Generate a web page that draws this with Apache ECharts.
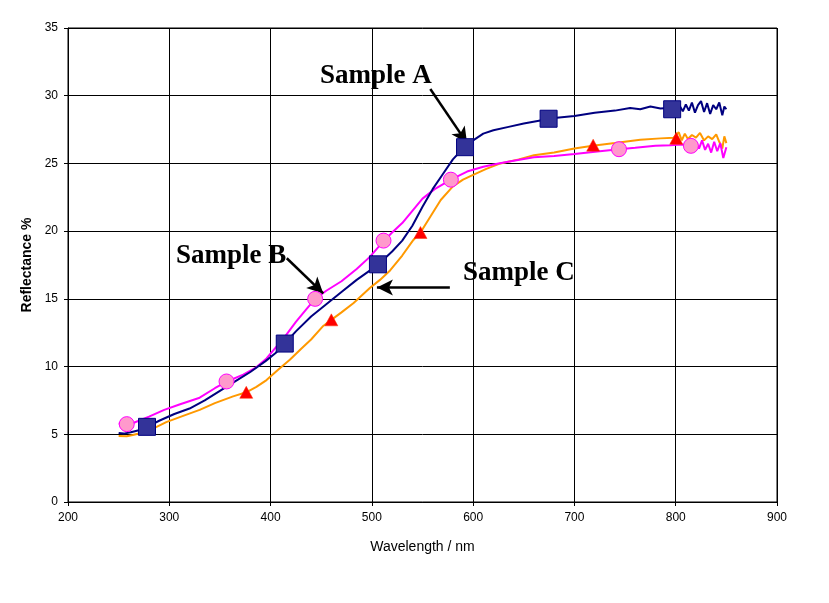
<!DOCTYPE html>
<html>
<head>
<meta charset="utf-8">
<script src="https://cdn.jsdelivr.net/npm/echarts@6/dist/echarts.min.js"></script>
<style>
  html, body { margin: 0; padding: 0; background: #fff; }
  #chart { width: 829px; height: 603px; }
</style>
</head>
<body>
<div id="chart"></div>
<script>
// axis ticks
var xTicks = [200, 300, 400, 500, 600, 700, 800, 900];
var yTicks = [0, 5, 10, 15, 20, 25, 30, 35];

// Sample A (navy line)
var waveA = [250, 255, 262, 270, 278, 290, 305, 320, 335, 350, 365, 380, 395, 405, 414, 425, 440, 455, 470, 485,
  500, 510, 520, 530, 540, 550, 560, 570, 580, 590, 600, 610, 620, 635, 650, 665, 680, 700, 720, 740,
  755, 765, 775, 785, 792, 800, 804, 807, 810, 813, 816, 819, 822, 825, 828, 831, 834, 837, 840, 843, 846, 848, 850];
var reflA = [5.1, 5.05, 5.15, 5.3, 5.55, 6.0, 6.5, 6.9, 7.5, 8.2, 8.9, 9.6, 10.4, 11.0, 11.7, 12.6, 13.7, 14.6, 15.5, 16.4,
  17.2, 17.8, 18.5, 19.3, 20.4, 21.8, 23.1, 24.2, 25.3, 26.1, 26.7, 27.2, 27.45, 27.7, 27.95, 28.15, 28.35, 28.5, 28.75, 28.9,
  29.1, 29.0, 29.2, 29.05, 29.1, 29.0, 29.25, 28.85, 29.35, 28.9, 29.5, 28.75, 29.3, 29.6, 28.8, 29.45, 28.65, 29.3, 29.0, 29.5, 28.55, 29.2, 29.0];

// Sample B (magenta line)
var waveB = [250, 258, 265, 280, 295, 310, 330, 345, 357, 373, 385, 396, 405, 414, 425, 435, 444, 455, 470, 485,
  498, 512, 520, 530, 540, 550, 562, 578, 594, 610, 625, 640, 660, 680, 700, 725, 744, 760, 780, 795,
  805, 815, 820, 823, 826, 829, 832, 835, 838, 841, 844, 847, 850];
var reflB = [5.8, 5.75, 5.85, 6.3, 6.8, 7.2, 7.7, 8.4, 8.9, 9.4, 9.9, 10.6, 11.4, 12.2, 13.3, 14.2, 15.0, 15.6, 16.3, 17.2,
  18.1, 19.3, 19.9, 20.6, 21.5, 22.4, 23.1, 23.8, 24.4, 24.75, 25.0, 25.2, 25.45, 25.55, 25.7, 25.9, 26.05, 26.15, 26.3, 26.35,
  26.4, 26.3, 26.55, 26.1, 26.7, 26.0, 26.45, 25.8, 26.6, 25.9, 26.5, 25.4, 26.2];

// Sample C (orange line)
var waveC = [250, 258, 264, 272, 281, 297, 315, 330, 345, 363, 376, 386, 396, 408, 419, 430, 440, 452, 460, 470,
  482, 498, 508, 518, 530, 541, 548, 558, 568, 580, 590, 600, 613, 627, 645, 660, 680, 700, 718, 740,
  765, 785, 798, 803, 806, 809, 812, 816, 820, 824, 828, 832, 836, 840, 843, 846, 848, 850];
var reflC = [4.87, 4.85, 4.95, 5.1, 5.3, 5.9, 6.4, 6.8, 7.3, 7.8, 8.1, 8.5, 9.0, 9.8, 10.5, 11.3, 12.0, 13.0, 13.45, 14.0,
  14.7, 15.8, 16.4, 17.1, 18.2, 19.35, 19.9, 21.1, 22.3, 23.3, 23.8, 24.15, 24.6, 25.0, 25.3, 25.6, 25.8, 26.1, 26.3, 26.5,
  26.75, 26.85, 26.9, 27.3, 26.7, 27.2, 26.8, 27.1, 26.9, 27.25, 26.7, 27.0, 26.8, 27.15, 26.6, 26.1, 27.0, 26.5];

// markers
var markA = [[278, 5.55], [414, 11.7], [506, 17.55], [592, 26.2], [674.5, 28.3], [796.5, 29.0]];
var markB = [[258, 5.75], [356.5, 8.9], [444, 15.0], [511.5, 19.3], [578, 23.8], [744, 26.05], [815, 26.3]];
var markC = [[376, 8.1], [460, 13.45], [548, 19.9], [718.5, 26.35], [800.5, 26.85]];

// annotation arrows, in data coordinates [from, to]
var arrowA = [[557.7, 30.5], [594, 26.5]];
var arrowB = [[416, 18.0], [452, 15.4]];
var arrowC = [[577, 15.83], [505, 15.83]];

function pairs(xs, ys) {
  var out = [];
  for (var i = 0; i < xs.length; i++) out.push([xs[i], ys[i]]);
  return out;
}

function arrowLine(a) {
  return [{ coord: a[0] }, { coord: a[1] }];
}

var chart = echarts.init(document.getElementById('chart'));

var option = {
  animation: false,
  backgroundColor: '#fff',
  grid: {
    left: 68, right: 52, top: 28, bottom: 101,
    show: true, borderColor: '#000', borderWidth: 1
  },
  xAxis: {
    type: 'value',
    min: xTicks[0], max: xTicks[xTicks.length - 1], interval: 100,
    name: 'Wavelength / nm',
    nameLocation: 'middle', nameGap: 38,
    nameTextStyle: { fontFamily: 'Liberation Sans', fontSize: 14, color: '#000' },
    axisLine: { lineStyle: { color: '#000', width: 1 } },
    axisTick: { show: true, length: 4, lineStyle: { color: '#000' } },
    axisLabel: { fontFamily: 'Liberation Sans', fontSize: 12, color: '#000', margin: 10 },
    splitLine: { show: true, lineStyle: { color: '#000', width: 1 } }
  },
  yAxis: {
    type: 'value',
    min: yTicks[0], max: yTicks[yTicks.length - 1], interval: 5,
    name: 'Reflectance %',
    nameLocation: 'middle', nameGap: 33,
    nameTextStyle: { fontFamily: 'Liberation Sans', fontSize: 14, fontWeight: 'bold', color: '#000' },
    axisLine: { show: true, lineStyle: { color: '#000', width: 1 } },
    axisTick: { show: true, length: 4, lineStyle: { color: '#000' } },
    axisLabel: { fontFamily: 'Liberation Sans', fontSize: 12, color: '#000', margin: 10 },
    splitLine: { show: true, lineStyle: { color: '#000', width: 1 } }
  },
  series: [
    {
      name: 'Sample C', type: 'line', data: pairs(waveC, reflC),
      showSymbol: false, lineStyle: { color: '#ff9900', width: 2 }, z: 2
    },
    {
      name: 'Sample B', type: 'line', data: pairs(waveB, reflB),
      showSymbol: false, lineStyle: { color: '#ff00ff', width: 2 }, z: 3
    },
    {
      name: 'Sample A', type: 'line', data: pairs(waveA, reflA),
      showSymbol: false, lineStyle: { color: '#000080', width: 2 }, z: 4,
      markLine: {
        silent: true,
        symbol: ['none', 'arrow'],
        symbolSize: [12, 16],
        label: { show: false },
        lineStyle: { color: '#000', width: 2.5, type: 'solid' },
        data: [arrowLine(arrowA), arrowLine(arrowB), arrowLine(arrowC)]
      }
    },
    {
      type: 'scatter', data: markC, symbol: 'triangle', symbolSize: [13, 12],
      itemStyle: { color: '#ff0000', borderColor: '#ff3300', borderWidth: 0.5, opacity: 1 }, z: 5
    },
    {
      type: 'scatter', data: markB, symbol: 'circle', symbolSize: 15,
      itemStyle: { color: '#ff99cc', borderColor: '#ff00ff', borderWidth: 1, opacity: 1 }, z: 5
    },
    {
      type: 'scatter', data: markA, symbol: 'rect', symbolSize: 17,
      itemStyle: { color: '#333399', borderColor: '#000080', borderWidth: 1, opacity: 1 }, z: 6
    }
  ],
  graphic: [
    { type: 'text', left: 320, top: 63, z: 100,
      style: { text: 'Sample A', fontFamily: 'Liberation Serif', fontWeight: 'bold', fontSize: 27, fill: '#000' } },
    { type: 'text', left: 176, top: 243, z: 100,
      style: { text: 'Sample B', fontFamily: 'Liberation Serif', fontWeight: 'bold', fontSize: 27, fill: '#000' } },
    { type: 'text', left: 463, top: 260, z: 100,
      style: { text: 'Sample C', fontFamily: 'Liberation Serif', fontWeight: 'bold', fontSize: 27, fill: '#000' } }
  ]
};

chart.setOption(option);
</script>
</body>
</html>
